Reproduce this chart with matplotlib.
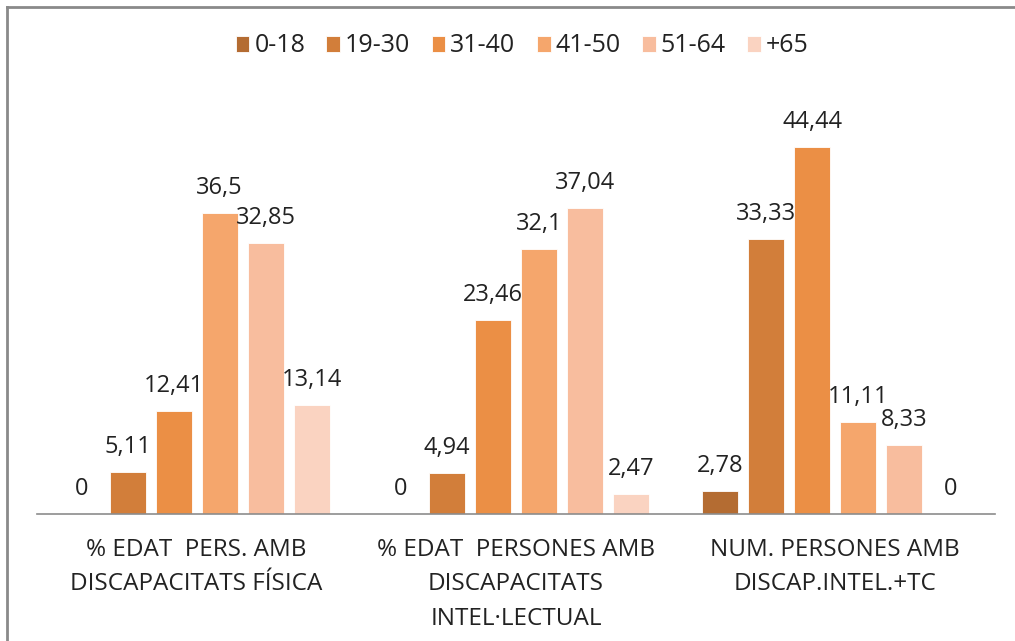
import matplotlib.pyplot as plt
from matplotlib.lines import Line2D
import numpy as np

plt.rcParams['font.family'] = ['Open Sans', 'DejaVu Sans']

categories = ['% EDAT  PERS. AMB\nDISCAPACITATS FÍSICA',
              '% EDAT  PERSONES AMB\nDISCAPACITATS\nINTEL·LECTUAL',
              'NUM. PERSONES AMB\nDISCAP.INTEL.+TC']
age_groups = ['0-18', '19-30', '31-40', '41-50', '51-64', '+65']

v_0_18  = [0, 0, 2.78]
v_19_30 = [5.11, 4.94, 33.33]
v_31_40 = [12.41, 23.46, 44.44]
v_41_50 = [36.5, 32.1, 11.11]
v_51_64 = [32.85, 37.04, 8.33]
v_65    = [13.14, 2.47, 0]
series = [v_0_18, v_19_30, v_31_40, v_41_50, v_51_64, v_65]

colors = ['#B46C32', '#D27E3A', '#EB8F45', '#F5A66C', '#F8BD9E', '#FAD3C1']

W, H = 1015, 641
fig = plt.figure(figsize=(W / 100, H / 100), dpi=100)
# plot area in pixels: left 37, right 995, baseline 514, top 101
axes = fig.add_axes([37 / W, (H - 514) / H, (995 - 37) / W, (514 - 101) / H])

x = np.arange(len(categories))
step = 0.144
width = 0.1127
for i, (vals, name) in enumerate(zip(series, age_groups)):
    pos = x + (i - 2.5) * step
    bars = axes.bar(pos, vals, width, color=colors[i], label=name,
                    edgecolor='white', linewidth=0.6)
    for b, v in zip(bars, vals):
        lab = ('%g' % v).replace('.', ',')
        axes.annotate(lab, (b.get_x() + b.get_width() / 2, v),
                      xytext=(0, 13), textcoords='offset pixels',
                      ha='center', va='bottom', fontsize=17, color='#222222')

axes.set_xlim(-0.5, 2.5)
axes.set_ylim(0, 50)
axes.set_yticks([])
axes.set_xticks(x)
axes.set_xticklabels(categories, fontsize=17.5, linespacing=1.6, color='#222222')
axes.tick_params(axis='x', length=0, pad=17)
for s in ['top', 'right', 'left']:
    axes.spines[s].set_visible(False)
axes.spines['bottom'].set_color('#8C8C8C')
axes.spines['bottom'].set_linewidth(1.2)

leg = fig.legend(loc='center', bbox_to_anchor=(522 / W, 1 - 46 / H), ncol=6,
                 frameon=False, fontsize=18, handlelength=0.55, handleheight=0.6,
                 handletextpad=0.2, columnspacing=0.85)
for t in leg.get_texts():
    t.set_color('#222222')

# outer chart border (only left and top edges are inside the picture)
fig.add_artist(Line2D([7 / W, 7 / W], [0, 1 - 7 / H], color='#8A8A8A', lw=2))
fig.add_artist(Line2D([7 / W, 1], [1 - 7 / H, 1 - 7 / H], color='#8A8A8A', lw=2))

plt.savefig('out.png', dpi=100)
plt.close()
